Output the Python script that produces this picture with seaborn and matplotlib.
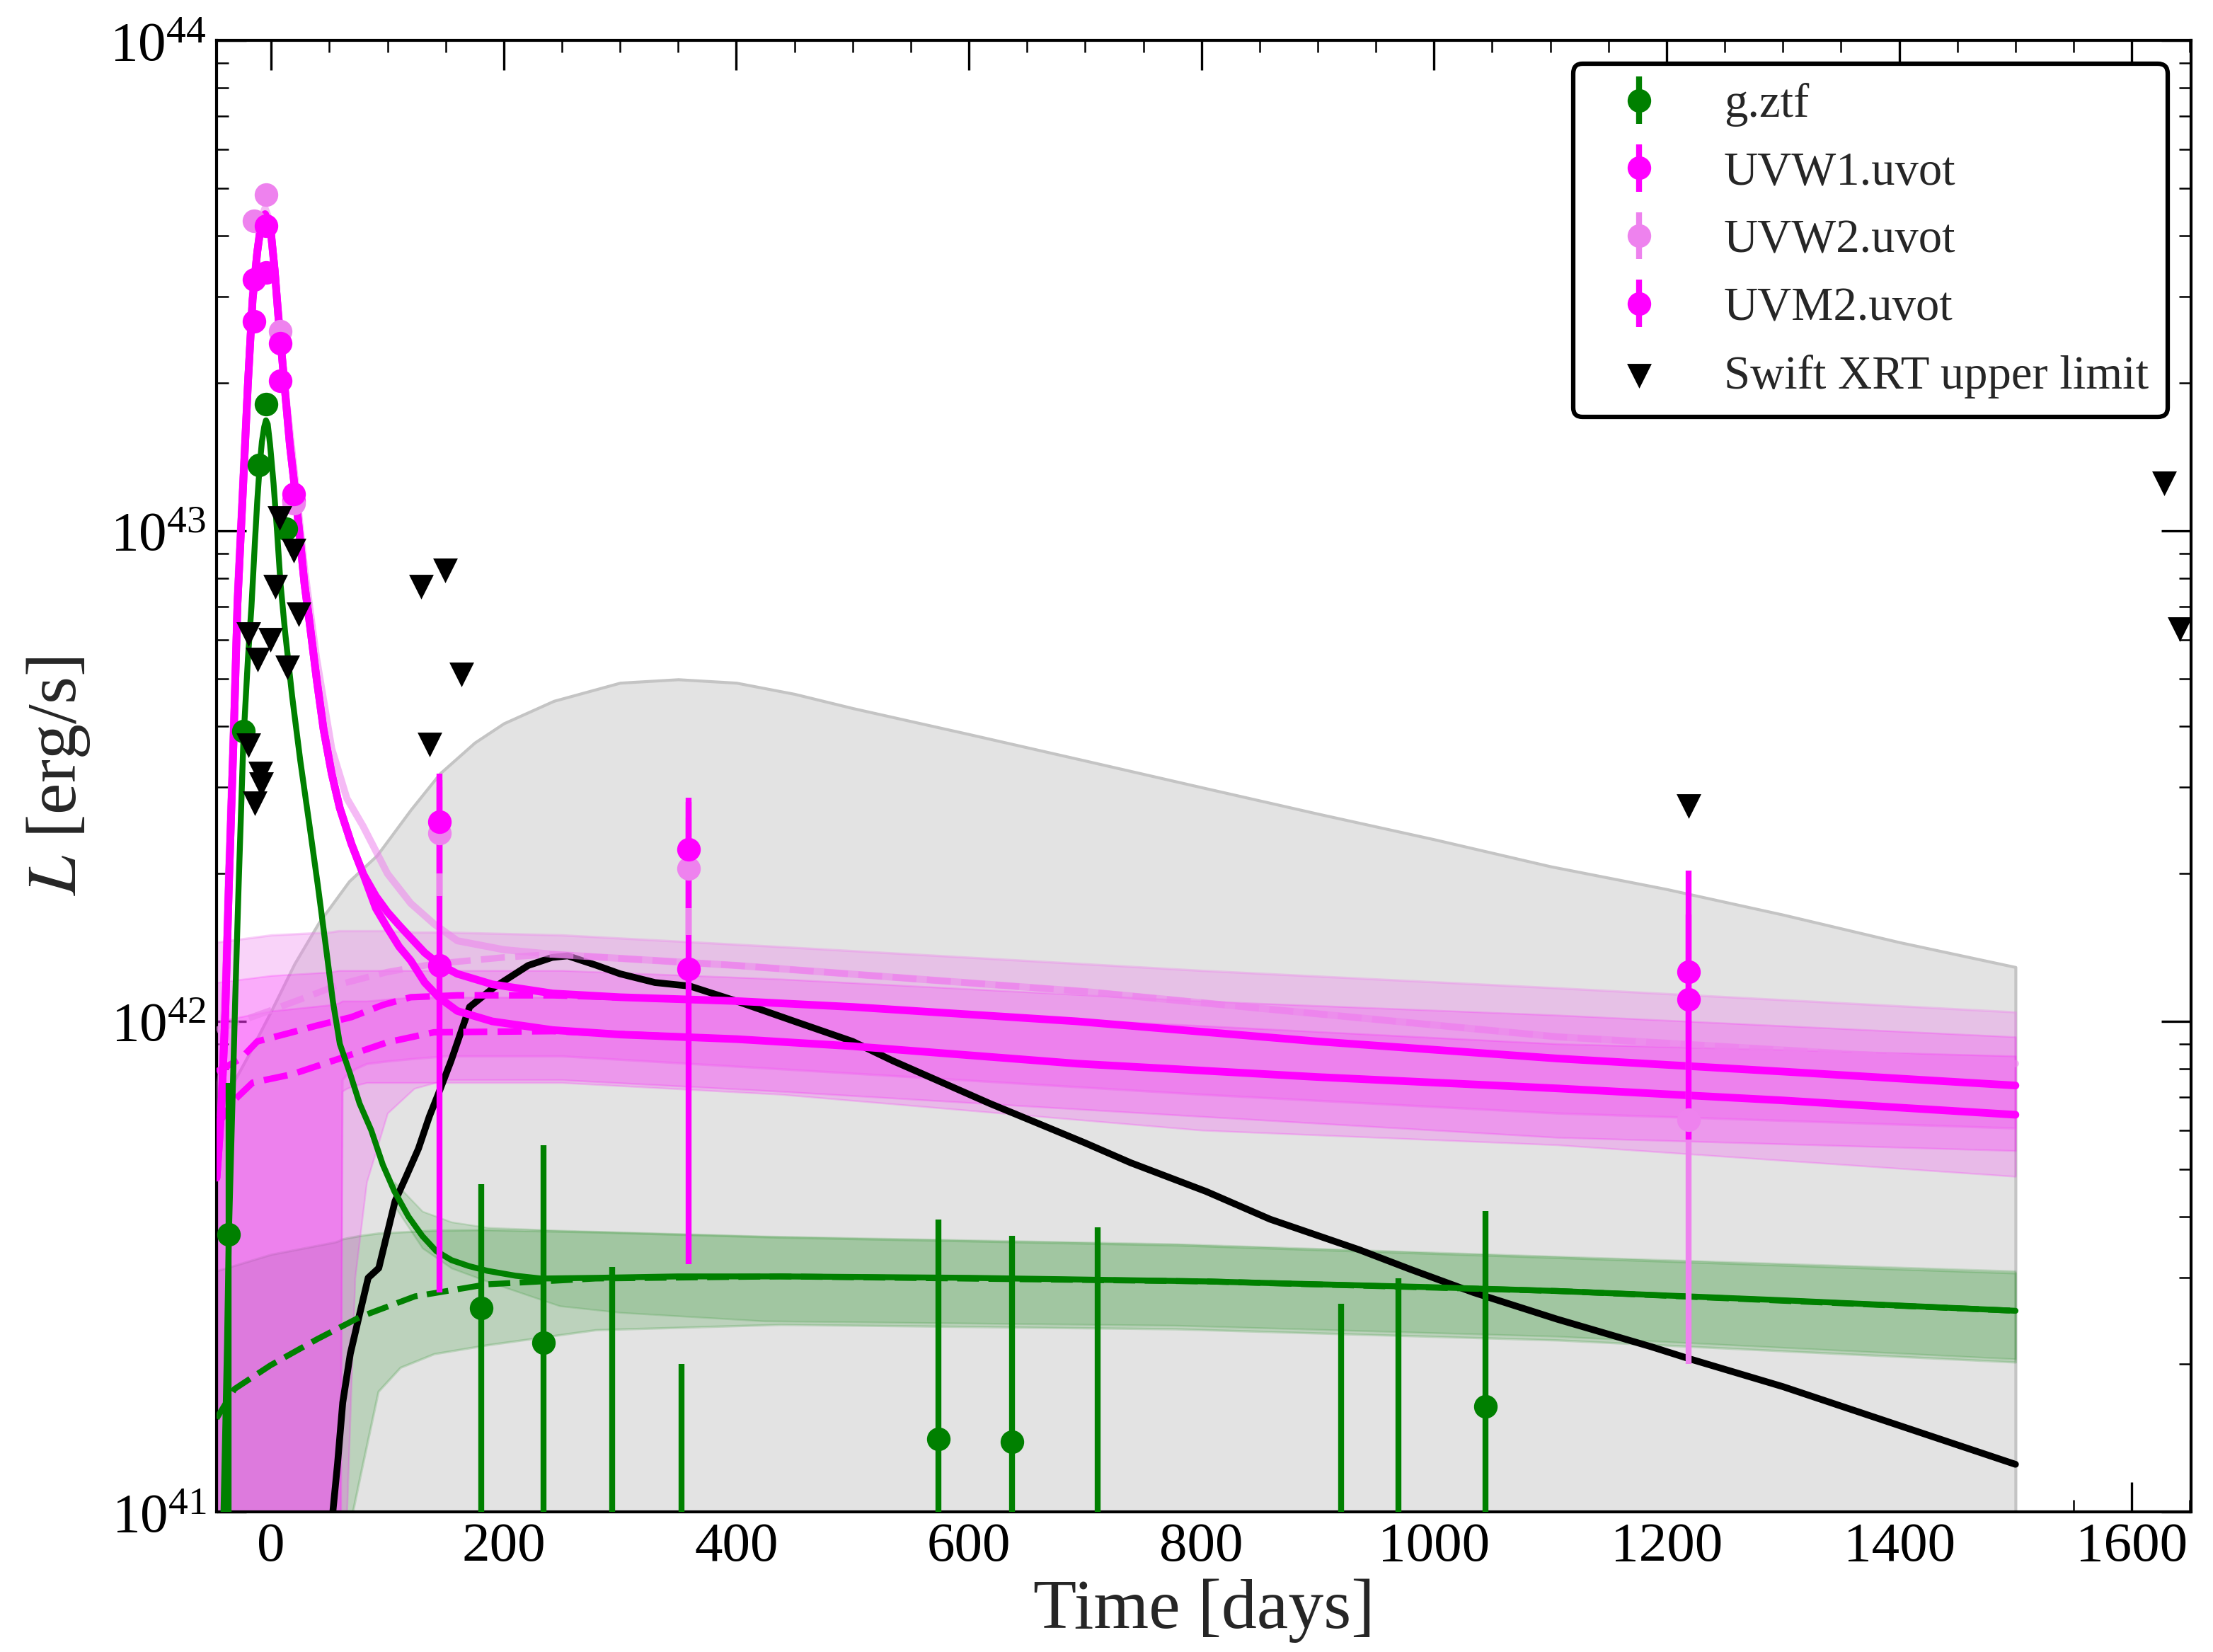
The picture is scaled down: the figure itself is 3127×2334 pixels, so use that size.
import numpy as np
import matplotlib
matplotlib.use("Agg")
import matplotlib.pyplot as plt
from matplotlib.ticker import MultipleLocator, LogLocator
import seaborn as sns

# ---------------- observed photometry ----------------
g_t  = [-36.5, -23.7, -10.5, -4.5, 12.4, 180.8, 234, 293.5, 353, 574, 637, 711, 920, 969.6, 1044]
g_L  = [3.68e41, 3.9e42, 1.36e43, 1.81e43, 1.01e43, 2.6e41, 2.21e41, 4e40, 4e40, 1.41e41, 1.39e41, 4e40, 4e40, 4e40, 1.64e41]
g_lo = [3e40, 3.7e42, 1.32e43, 1.76e43, 9.8e42, 3e40, 3e40, 3e40, 3e40, 3e40, 3e40, 3e40, 3e40, 3e40, 3e40]
g_hi = [7.5e41, 4.1e42, 1.40e43, 1.86e43, 1.04e43, 4.65e41, 5.6e41, 3.16e41, 2.0e41, 3.94e41, 3.66e41, 3.8e41, 2.66e41, 2.99e41, 4.1e41]

uv_t   = [-14.6, -4.5, 7.7, 19.1, 144.5, 359, 1219]
w1_L   = [2.67e43, 3.36e43, 2.02e43, 1.15e43, 1.3e42, 1.28e42, 1.26e42]
w1_lo  = [2.62e43, 3.30e43, 1.98e43, 1.13e43, 2.8e41, 3.2e41, 9.1e41]
w1_hi  = [2.72e43, 3.42e43, 2.06e43, 1.17e43, 3.2e42, 2.86e42, 2.03e42]
w2_L   = [4.29e43, 4.85e43, 2.55e43, 1.14e43, 2.42e42, 2.05e42, 6.3e41]
w2_lo  = [4.22e43, 4.77e43, 2.51e43, 1.12e43, 1.8e42, 1.5e42, 2.0e41]
w2_hi  = [4.36e43, 4.93e43, 2.59e43, 1.16e43, 3.0e42, 2.6e42, 9.1e41]
m2_L   = [3.25e43, 4.19e43, 2.41e43, 1.19e43, 2.55e42, 2.24e42, 1.11e42]
m2_lo  = [3.19e43, 4.12e43, 2.37e43, 1.17e43, 2.0e42, 1.7e42, 5.75e41]
m2_hi  = [3.31e43, 4.26e43, 2.45e43, 1.21e43, 3.1e42, 2.8e42, 1.65e42]

xrt_t = [6.9, 19.1, 3.7, 23.3, -19.5, -0.8, -12, 14, -19.5, -9.5, -8.9, -14,
         129, 149.3, 163.5, 136, 1219, 1628, 1641.5]
xrt_L = [1.06e43, 9.1e42, 7.7e42, 6.76e42, 6.16e42, 6.0e42, 5.47e42, 5.27e42, 3.66e42, 3.2e42, 3.04e42, 2.78e42,
         7.7e42, 8.3e42, 5.1e42, 3.67e42, 2.75e42, 1.25e43, 6.3e42]

# ---------------- model curves ----------------
gm_t = [-41, -38, -36.5, -34, -31, -28, -24, -20, -17, -14, -12, -10, -8, -6, -4.5, -3, -1, 2, 5, 8, 12, 18, 25, 33,
        40, 47, 53, 59, 68, 76, 86, 96, 106, 118, 130, 142, 155, 170, 186, 210, 232, 280, 350, 438, 600, 804, 1000,
        1106, 1300, 1500]
gm_L = [1.0e41, 2.2e41, 3.6e41, 6e41, 1.1e42, 1.9e42, 3.7e42, 5.5e42, 7e42, 9.5e42, 1.15e43, 1.35e43, 1.52e43,
        1.63e43, 1.68e43, 1.65e43, 1.5e43, 1.25e43, 1.0e43, 7.8e42, 6.2e42, 4.6e42, 3.4e42, 2.5e42, 1.9e42, 1.42e42,
        1.1e42, 9.0e41, 7.8e41, 6.8e41, 6.0e41, 5.1e41, 4.5e41, 4.0e41, 3.65e41, 3.4e41, 3.26e41, 3.17e41, 3.1e41,
        3.03e41, 2.99e41, 3.0e41, 3.02e41, 3.02e41, 3.0e41, 2.95e41, 2.87e41, 2.82e41, 2.7e41, 2.57e41]
gd_t = [-47, -31.6, -0.6, 39.6, 77, 123.6, 185.7, 279, 438, 804, 1106, 1500]
gd_L = [1.55e41, 1.78e41, 1.99e41, 2.25e41, 2.5e41, 2.75e41, 2.91e41, 2.99e41, 3.02e41, 2.95e41, 2.82e41, 2.57e41]

mu_t = [-47, -44.5, -42.6, -39.5, -36.5, -32, -29, -26, -23, -20, -16, -12, -9, -7, -5.3, -3, 0, 3, 6, 9, 12.2,
        16, 20.5, 25, 28.6, 33, 39, 45, 52, 59, 69, 79, 90, 100, 110, 120, 132, 144, 160, 190, 242, 300, 400, 500,
        693, 900, 1106, 1300, 1500]
mu_L = [4.8e41, 5.8e41, 6.9e41, 1.04e42, 1.86e42, 4.0e42, 7.1e42, 1.0e43, 1.41e43, 2.0e43, 2.96e43, 3.7e43,
        4.17e43, 4.35e43, 4.42e43, 4.3e43, 4.0e43, 3.4e43, 2.76e43, 2.3e43, 1.89e43, 1.5e43, 1.21e43, 9.5e42,
        7.8e42, 6.5e42, 5.0e42, 3.94e42, 3.2e42, 2.72e42, 2.3e42, 2.0e42, 1.8e42, 1.67e42, 1.57e42, 1.48e42,
        1.38e42, 1.31e42, 1.25e42, 1.19e42, 1.14e42, 1.12e42, 1.1e42, 1.07e42, 1.0e42, 9.1e41, 8.4e41, 7.9e41, 7.4e41]
ml_L = [4.8e41, 5.8e41, 6.9e41, 1.04e42, 1.86e42, 4.0e42, 7.1e42, 1.0e43, 1.41e43, 2.0e43, 2.96e43, 3.7e43,
        4.17e43, 4.35e43, 4.42e43, 4.3e43, 4.0e43, 3.4e43, 2.76e43, 2.3e43, 1.89e43, 1.5e43, 1.21e43, 9.5e42,
        7.8e42, 6.5e42, 5.0e42, 3.94e42, 3.2e42, 2.72e42, 2.3e42, 2.0e42, 1.7e42, 1.55e42, 1.42e42, 1.33e42,
        1.2e42, 1.12e42, 1.05e42, 1.0e42, 9.6e41, 9.4e41, 9.2e41, 8.9e41, 8.2e41, 7.7e41, 7.3e41, 6.9e41, 6.45e41]
vs_t = [-47, -42.6, -39.5, -36.5, -32, -29, -23, -16, -9, -5.3, -3, 0, 6, 12, 20.5, 28.6, 39, 52, 65, 79, 100,
        120, 140, 160, 200, 242, 400, 700, 1106, 1500]
vs_L = [6.5e41, 8.0e41, 1.2e42, 2.1e42, 4.4e42, 7.6e42, 1.5e43, 3.1e43, 4.3e43, 4.55e43, 4.4e43, 4.1e43, 2.85e43,
        1.95e43, 1.28e43, 8.4e42, 5.5e42, 3.6e42, 2.85e42, 2.5e42, 2.0e42, 1.74e42, 1.58e42, 1.46e42, 1.4e42,
        1.37e42, 1.3e42, 1.15e42, 9.3e41, 8.2e41]

mdu_t = [-47, -40, -26, -12, 18, 39, 69, 96, 120, 160, 242, 400, 500, 693, 900, 1106, 1300, 1500]
mdu_L = [7.9e41, 8.05e41, 8.4e41, 9.1e41, 9.5e41, 9.8e41, 1.02e42, 1.08e42, 1.12e42, 1.13e42, 1.13e42, 1.1e42,
         1.07e42, 1.0e42, 9.1e41, 8.4e41, 7.9e41, 7.4e41]
mdl_t = [-47, -32, -16, 18, 59, 99.6, 140, 242, 400, 500, 693, 900, 1106, 1300, 1500]
mdl_L = [6.1e41, 6.9e41, 7.5e41, 7.8e41, 8.4e41, 9.06e41, 9.5e41, 9.55e41, 9.2e41, 8.9e41, 8.2e41, 7.7e41, 7.3e41,
         6.9e41, 6.45e41]
vd_t = [-47, -32, -1.8, 30, 59, 99.6, 140, 200, 242, 400, 700, 1106, 1500]
vd_L = [9.6e41, 9.9e41, 1.05e42, 1.12e42, 1.19e42, 1.26e42, 1.31e42, 1.35e42, 1.37e42, 1.3e42, 1.15e42, 9.3e41, 8.2e41]

bk_t = [50, 53, 57, 61.5, 68, 75.5, 83.4, 92.5, 106.5, 115.6, 126.6, 136, 143.6, 154.6, 170.6, 191, 221, 241.6, 255,
        280, 300, 330, 360, 400, 450, 500, 535, 580, 618, 659, 700, 739, 804, 859, 936, 980, 1034, 1106, 1187, 1220,
        1300, 1400, 1500]
bk_L = [8e40, 1.0e41, 1.25e41, 1.67e41, 2.1e41, 2.5e41, 3.0e41, 3.14e41, 4.3e41, 4.8e41, 5.5e41, 6.4e41, 7.1e41,
        8.3e41, 1.07e42, 1.17e42, 1.3e42, 1.35e42, 1.36e42, 1.3e42, 1.25e42, 1.2e42, 1.18e42, 1.1e42, 1.0e42, 9.1e41,
        8.3e41, 7.45e41, 6.8e41, 6.2e41, 5.65e41, 5.15e41, 4.5e41, 3.95e41, 3.42e41, 3.12e41, 2.8e41, 2.47e41, 2.17e41,
        2.05e41, 1.8e41, 1.5e41, 1.25e41]

# ---------------- uncertainty bands ----------------
gray_t  = [-47, -20, 0, 20, 41, 67, 91, 120, 145, 175, 200, 243, 300, 350, 400, 450, 500, 600, 700, 800, 900, 1000,
           1100, 1200, 1300, 1400, 1500]
gray_hi = [6.5e41, 8.5e41, 1.05e42, 1.31e42, 1.59e42, 1.93e42, 2.18e42, 2.7e42, 3.2e42, 3.7e42, 4.05e42, 4.5e42,
           4.9e42, 4.98e42, 4.9e42, 4.65e42, 4.35e42, 3.85e42, 3.4e42, 3.0e42, 2.65e42, 2.35e42, 2.07e42, 1.86e42,
           1.65e42, 1.45e42, 1.29e42]
gray_lo = [1e40] * len(gray_t)

g1_t  = [-47, 0, 55, 58, 61, 66, 77, 92, 111, 140, 186, 279, 438, 778, 1106, 1500]
g1_hi = [3.1e41, 3.35e41, 3.55e41, 3.57e41, 3.6e41, 3.62e41, 3.66e41, 3.7e41, 3.72e41, 3.75e41, 3.76e41, 3.72e41,
         3.63e41, 3.5e41, 3.3e41, 3.07e41]
g1_lo = [1e40, 1e40, 1e40, 3e40, 6e40, 9e40, 1.2e41, 1.76e41, 1.97e41, 2.1e41, 2.19e41, 2.35e41, 2.41e41, 2.36e41,
         2.24e41, 2.02e41]
g2_t  = [106, 130, 155, 186, 248, 300, 424, 778, 1106, 1500]
g2_hi = [4.7e41, 4.1e41, 3.9e41, 3.8e41, 3.75e41, 3.72e41, 3.65e41, 3.52e41, 3.32e41, 3.1e41]
g2_lo = [4.2e41, 3.45e41, 3.14e41, 2.95e41, 2.63e41, 2.55e41, 2.45e41, 2.4e41, 2.28e41, 2.05e41]

uvb_t  = [-47, 0, 50, 58, 61, 65, 72, 82, 100, 123, 150, 250, 438, 800, 1106, 1500]
w2b_hi = [1.45e42, 1.5e42, 1.52e42, 1.53e42, 1.53e42, 1.53e42, 1.53e42, 1.53e42, 1.53e42, 1.52e42, 1.52e42, 1.5e42,
          1.42e42, 1.27e42, 1.17e42, 1.045e42]
w2b_lo = [1e40, 1e40, 1e40, 1e40, 7.6e41, 7.8e41, 8.0e41, 8.2e41, 8.3e41, 8.4e41, 8.5e41, 8.5e41, 8.0e41, 7.1e41,
          6.5e41, 6.06e41]
w1b_hi = [1.2e42, 1.24e42, 1.26e42, 1.27e42, 1.27e42, 1.27e42, 1.27e42, 1.27e42, 1.27e42, 1.27e42, 1.27e42, 1.27e42,
          1.22e42, 1.1e42, 1.03e42, 9.3e41]
w1b_lo = [1e40, 1e40, 1e40, 1e40, 1e40, 1e41, 3e41, 4.7e41, 6.5e41, 7.3e41, 7.6e41, 7.6e41, 7.2e41, 6.4e41, 5.8e41,
          5.45e41]
m2b_hi = [1.0e42, 1.05e42, 1.08e42, 1.09e42, 1.1e42, 1.1e42, 1.1e42, 1.1e42, 1.11e42, 1.12e42, 1.12e42, 1.12e42,
          1.08e42, 9.8e41, 9.0e41, 8.5e41]
m2b_lo = [1e40, 1e40, 1e40, 1e40, 7.2e41, 7.3e41, 7.4e41, 7.5e41, 7.5e41, 7.5e41, 7.5e41, 7.5e41, 7.1e41, 6.0e41,
          5.6e41, 4.83e41]

# ---------------- styling ----------------
sns.set_theme(style="ticks")
plt.rcParams.update({
    "font.family": ["Liberation Serif", "DejaVu Serif"],
    "mathtext.fontset": "stix",
    "xtick.direction": "in", "ytick.direction": "in",
    "xtick.top": True, "ytick.right": True,
    "xtick.major.size": 10, "ytick.major.size": 10,
    "xtick.minor.size": 4, "ytick.minor.size": 4,
    "xtick.major.width": 0.8, "ytick.major.width": 0.8,
    "xtick.minor.width": 0.6, "ytick.minor.width": 0.6,
    "axes.linewidth": 1.0, "axes.edgecolor": "black",
    "xtick.color": "black", "ytick.color": "black",
})

W, H = 3127, 2334
fig = plt.figure(figsize=(W / 300, H / 300), dpi=300)
ax = fig.add_axes([306 / W, 1 - 2136 / H, (3096 - 306) / W, (2136 - 57) / H])
ax.set_yscale("log")

GREEN, MAG, VIO = "green", "#ff00ff", "violet"

ax.fill_between(gray_t, gray_lo, gray_hi, facecolor="#e3e3e3", edgecolor="#c4c4c4", lw=1.0, zorder=1)
ax.fill_between(g1_t, g1_lo, g1_hi, facecolor=GREEN, alpha=0.17, edgecolor=GREEN, lw=0.8, zorder=2)
ax.fill_between(g2_t, g2_lo, g2_hi, facecolor=GREEN, alpha=0.14, edgecolor=GREEN, lw=0.6, zorder=2)
ax.fill_between(uvb_t, w2b_lo, w2b_hi, facecolor=VIO, alpha=0.35, edgecolor=VIO, lw=0.8, zorder=2)
ax.fill_between(uvb_t, w1b_lo, w1b_hi, facecolor=MAG, alpha=0.18, edgecolor=MAG, lw=0.6, zorder=2)
ax.fill_between(uvb_t, m2b_lo, m2b_hi, facecolor=MAG, alpha=0.18, edgecolor=MAG, lw=0.6, zorder=2)

line_kw = dict(ax=ax, estimator=None, sort=False, legend=False)
sns.lineplot(x=bk_t, y=bk_L, color="black", linewidth=2.3, zorder=3, **line_kw)
sns.lineplot(x=gd_t, y=gd_L, color=GREEN, linewidth=2.0, linestyle="--", zorder=4, **line_kw)
sns.lineplot(x=mdu_t, y=mdu_L, color=MAG, linewidth=2.2, linestyle="--", zorder=4, **line_kw)
sns.lineplot(x=mdl_t, y=mdl_L, color=MAG, linewidth=2.2, linestyle="--", zorder=4, **line_kw)
sns.lineplot(x=vd_t, y=vd_L, color=VIO, linewidth=2.2, linestyle="--", alpha=0.7, zorder=4, **line_kw)
sns.lineplot(x=vs_t, y=vs_L, color=VIO, linewidth=2.4, alpha=0.55, zorder=4, **line_kw)
sns.lineplot(x=mu_t, y=mu_L, color=MAG, linewidth=2.6, zorder=4, **line_kw)
sns.lineplot(x=mu_t, y=ml_L, color=MAG, linewidth=2.6, zorder=4, **line_kw)
sns.lineplot(x=gm_t, y=gm_L, color=GREEN, linewidth=2.0, zorder=4, **line_kw)


def eb(t, L, lo, hi, color, label):
    L = np.asarray(L); lo = np.asarray(lo); hi = np.asarray(hi)
    return ax.errorbar(t, L, yerr=[L - lo, hi - L], fmt="o", color=color, ms=7, elinewidth=2.0,
                       capsize=0, label=label, zorder=5)


h_g = eb(g_t, g_L, g_lo, g_hi, GREEN, "g.ztf")
h_w1 = eb(uv_t, w1_L, w1_lo, w1_hi, MAG, "UVW1.uvot")
h_w2 = eb(uv_t, w2_L, w2_lo, w2_hi, VIO, "UVW2.uvot")
h_m2 = eb(uv_t, m2_L, m2_lo, m2_hi, MAG, "UVM2.uvot")
sns.scatterplot(x=xrt_t, y=xrt_L, ax=ax, marker="v", color="black", s=70, linewidth=0,
                zorder=6, label="Swift XRT upper limit", legend=False)

ax.set_xlim(-47, 1651)
ax.set_ylim(1e41, 1e44)
ax.xaxis.set_major_locator(MultipleLocator(200))
ax.xaxis.set_minor_locator(MultipleLocator(50))
ax.yaxis.set_major_locator(LogLocator(base=10, numticks=10))
ax.yaxis.set_minor_locator(LogLocator(base=10, subs=np.arange(2, 10), numticks=20))
ax.tick_params(axis="both", which="major", labelsize=19)
ax.tick_params(axis="both", which="both", top=True, right=True)
ax.set_xlabel("Time [days]", fontsize=24, labelpad=2)
ax.set_ylabel("$L$ [erg/s]", fontsize=24, labelpad=6)

handles, labels = ax.get_legend_handles_labels()
order = ["g.ztf", "UVW1.uvot", "UVW2.uvot", "UVM2.uvot", "Swift XRT upper limit"]
hmap = dict(zip(labels, handles))
leg = ax.legend([hmap[k] for k in order], order, loc="upper right", fontsize=16, frameon=True,
                fancybox=True, framealpha=1, edgecolor="black", labelspacing=0.52)
leg.get_frame().set_linewidth(1.5)
leg.set_zorder(10)

fig.savefig("out.png", dpi=300)
